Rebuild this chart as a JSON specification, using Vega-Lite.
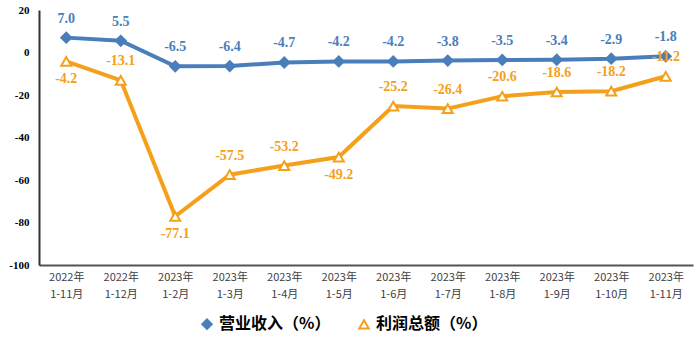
{
  "$schema": "https://vega.github.io/schema/vega-lite/v6.json",
  "width": 654,
  "height": 255,
  "autosize": {"type": "none"},
  "padding": {"left": 39, "top": 10, "right": 7, "bottom": 94},
  "background": "white",
  "config": {"view": {"stroke": null},
    "legend": {"orient": "none", "legendX": 160, "legendY": 306, "direction": "horizontal",
      "labelFont": "Noto Sans CJK SC", "labelFontWeight": "bold", "labelFontSize": 16,
      "labelColor": "#000000", "symbolSize": 90, "symbolStrokeWidth": 2, "columnPadding": 24}},
  "data": {"values": [
    {"month": "2022年 1-11月", "series": "营业收入（%）", "value": 7.0},
    {"month": "2022年 1-12月", "series": "营业收入（%）", "value": 5.5},
    {"month": "2023年 1-2月", "series": "营业收入（%）", "value": -6.5},
    {"month": "2023年 1-3月", "series": "营业收入（%）", "value": -6.4},
    {"month": "2023年 1-4月", "series": "营业收入（%）", "value": -4.7},
    {"month": "2023年 1-5月", "series": "营业收入（%）", "value": -4.2},
    {"month": "2023年 1-6月", "series": "营业收入（%）", "value": -4.2},
    {"month": "2023年 1-7月", "series": "营业收入（%）", "value": -3.8},
    {"month": "2023年 1-8月", "series": "营业收入（%）", "value": -3.5},
    {"month": "2023年 1-9月", "series": "营业收入（%）", "value": -3.4},
    {"month": "2023年 1-10月", "series": "营业收入（%）", "value": -2.9},
    {"month": "2023年 1-11月", "series": "营业收入（%）", "value": -1.8},
    {"month": "2022年 1-11月", "series": "利润总额（%）", "value": -4.2},
    {"month": "2022年 1-12月", "series": "利润总额（%）", "value": -13.1},
    {"month": "2023年 1-2月", "series": "利润总额（%）", "value": -77.1},
    {"month": "2023年 1-3月", "series": "利润总额（%）", "value": -57.5},
    {"month": "2023年 1-4月", "series": "利润总额（%）", "value": -53.2},
    {"month": "2023年 1-5月", "series": "利润总额（%）", "value": -49.2},
    {"month": "2023年 1-6月", "series": "利润总额（%）", "value": -25.2},
    {"month": "2023年 1-7月", "series": "利润总额（%）", "value": -26.4},
    {"month": "2023年 1-8月", "series": "利润总额（%）", "value": -20.6},
    {"month": "2023年 1-9月", "series": "利润总额（%）", "value": -18.6},
    {"month": "2023年 1-10月", "series": "利润总额（%）", "value": -18.2},
    {"month": "2023年 1-11月", "series": "利润总额（%）", "value": -11.2}
  ]},
  "encoding": {
    "x": {"field": "month", "type": "nominal", "sort": null,
      "scale": {"paddingInner": 0, "paddingOuter": 0},
      "axis": {"title": null, "labelAngle": 0, "labelExpr": "split(datum.label, ' ')",
        "labelFont": "Noto Sans CJK SC", "labelFontSize": 11, "labelColor": "#404040",
        "labelLineHeight": 17, "labelPadding": 6,
        "domainColor": "#555555", "domainWidth": 2, "ticks": false}},
    "y": {"field": "value", "type": "quantitative",
      "scale": {"domain": [-100, 20], "nice": false},
      "axis": {"title": null, "values": [-100, -80, -60, -40, -20, 0, 20], "grid": false,
        "labelExpr": "datum.value < 0 ? '-' + format(-datum.value, 'd') : format(datum.value, 'd')",
        "ticks": false, "domainColor": "#333333", "domainWidth": 2,
        "labelFont": "Liberation Serif", "labelFontWeight": "bold", "labelFontSize": 11,
        "labelColor": "#000000", "labelPadding": 10}}
  },
  "layer": [
    {
      "mark": {"type": "line", "strokeWidth": 4},
      "encoding": {
        "stroke": {"field": "series", "type": "nominal", "title": null,
          "scale": {"domain": ["营业收入（%）", "利润总额（%）"], "range": ["#4a7ebb", "#f5a01a"]}}
      }
    },
    {
      "mark": {"type": "point", "strokeWidth": 2, "opacity": 1},
      "encoding": {
        "shape": {"field": "series", "type": "nominal", "title": null,
          "scale": {"domain": ["营业收入（%）", "利润总额（%）"], "range": ["diamond", "triangle-up"]}},
        "fill": {"field": "series", "type": "nominal", "title": null,
          "scale": {"domain": ["营业收入（%）", "利润总额（%）"], "range": ["#4a7ebb", "#ffffff"]}},
        "stroke": {"field": "series", "type": "nominal", "title": null,
          "scale": {"domain": ["营业收入（%）", "利润总额（%）"], "range": ["#4a7ebb", "#f5a01a"]}},
        "size": {"value": 100}
      }
    },
    {
      "transform": [
        {"filter": "!(datum.series == '利润总额（%）' && indexof(['2022年 1-11月', '2023年 1-2月', '2023年 1-5月'], datum.month) >= 0)"},
        {"calculate": "(datum.value < 0 ? '-' : '') + format(abs(datum.value), '.1f')", "as": "label"}
      ],
      "mark": {"type": "text", "dy": -19, "font": "Liberation Serif", "fontSize": 14, "fontWeight": "bold"},
      "encoding": {
        "text": {"field": "label", "type": "nominal"},
        "color": {"condition": {"test": "datum.series == '营业收入（%）'", "value": "#4a7ebb"}, "value": "#f5a01a"}
      }
    },
    {
      "transform": [
        {"filter": "datum.series == '利润总额（%）' && indexof(['2022年 1-11月', '2023年 1-2月', '2023年 1-5月'], datum.month) >= 0"},
        {"calculate": "(datum.value < 0 ? '-' : '') + format(abs(datum.value), '.1f')", "as": "label"}
      ],
      "mark": {"type": "text", "dy": 18, "font": "Liberation Serif", "fontSize": 14, "fontWeight": "bold", "color": "#f5a01a"},
      "encoding": {
        "text": {"field": "label", "type": "nominal"}
      }
    }
  ]
}
